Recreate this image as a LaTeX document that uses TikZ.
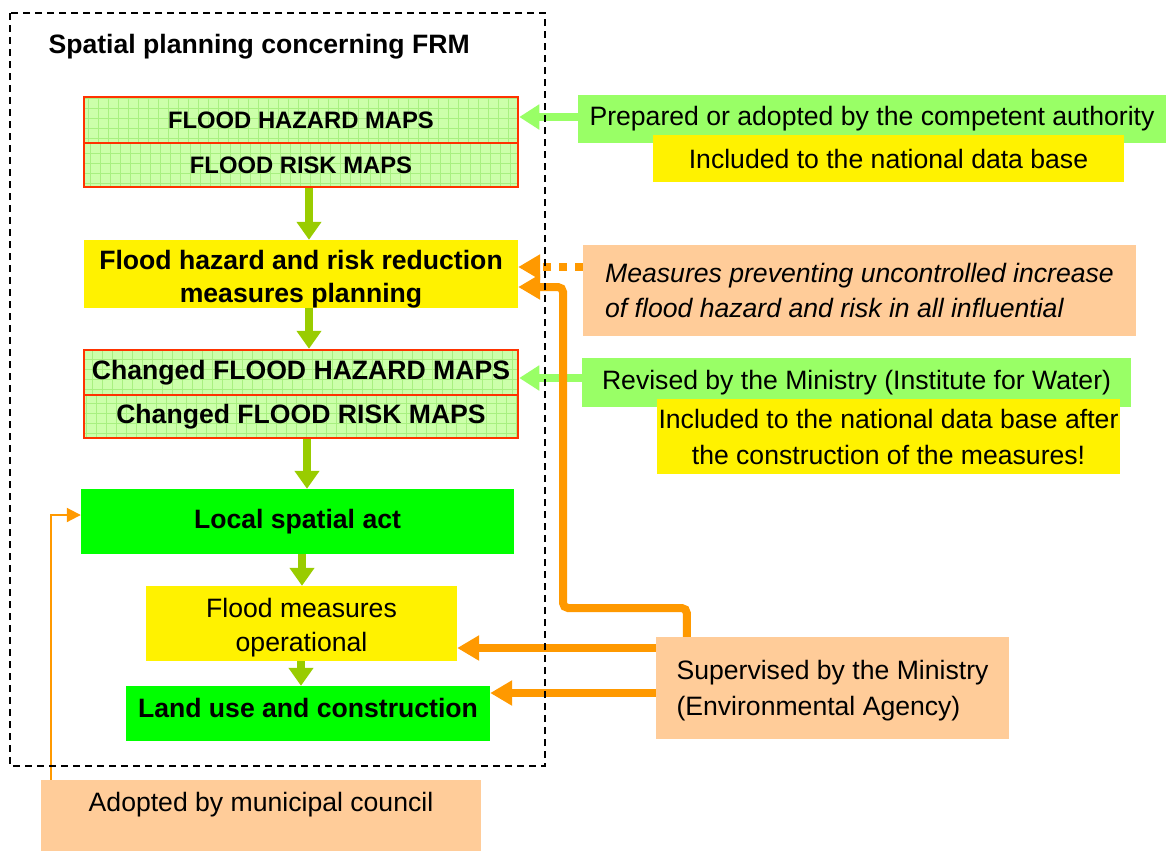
\documentclass[tikz,border=0pt]{standalone}
\usepackage{fontspec}
\setmainfont{Liberation Sans}
\usepackage{xcolor}
\usetikzlibrary{arrows.meta, calc}

\definecolor{mapfill}{HTML}{CCFFAA}
\definecolor{mapgrid}{HTML}{A8F080}
\definecolor{mapred}{HTML}{FF3300}
\definecolor{actgreen}{HTML}{00FF00}
\definecolor{notegreen}{HTML}{99FF66}
\definecolor{peach}{HTML}{FFCC99}
\definecolor{flowgreen}{HTML}{99CC00}
\definecolor{supor}{HTML}{FF9900}

\begin{document}
\begin{tikzpicture}[x=1pt, y=-1pt,
    base/.style={rectangle, inner sep=0pt, align=center,
        font=\fontsize{26.6}{34}\selectfont},
    mapbox/.style={base, draw=mapred, line width=2.5pt, fill=mapfill,
        minimum width=434pt, font=\fontsize{26.6}{34}\selectfont\bfseries,
        path picture={\draw[mapgrid, line width=0.6pt, step=10pt]
            (path picture bounding box.south west) grid
            (path picture bounding box.north east);}},
    yelbox/.style={base, fill=yellow},
    actbox/.style={base, fill=actgreen, font=\fontsize{26.6}{34}\selectfont\bfseries},
    notebox/.style={base, fill=notegreen},
    peachbox/.style={base, fill=peach},
    flow/.style={flowgreen, line width=8pt,
        -{Triangle[length=18pt, width=24pt]}},
    side/.style={notegreen, line width=8pt,
        -{Triangle[length=20pt, width=24pt]}},
    sup/.style={supor, line width=8pt,
        -{Triangle[length=22pt, width=24pt]}}
]
\useasboundingbox (0,0) rectangle (1171,852);

% left column
\node[anchor=west, font=\fontsize{26.6}{34}\selectfont\bfseries] (title) at (45,47)
    {Spatial planning concerning FRM};
\node[mapbox, minimum height=46pt, font=\fontsize{23.8}{30}\selectfont\bfseries]
    (haz) at (301,120) {FLOOD HAZARD MAPS};
\node[mapbox, minimum height=44pt, font=\fontsize{23.8}{30}\selectfont\bfseries]
    (risk) at (301,165) {FLOOD RISK MAPS};
\node[yelbox, minimum width=434pt, minimum height=68pt, text height=62.4pt,
    font=\fontsize{26.6}{33}\selectfont\bfseries] (plan) at (301,274)
    {Flood hazard and risk reduction\\measures planning};
\node[mapbox, minimum height=45pt] (chaz) at (301,372.5) {Changed FLOOD HAZARD MAPS};
\node[mapbox, minimum height=43pt] (crisk) at (301,416.5) {Changed FLOOD RISK MAPS};
\node[actbox, minimum width=433pt, minimum height=65pt] (local) at (297.5,521.5)
    {Local spatial act};
\node[yelbox, minimum width=311pt, minimum height=75pt, text height=61.5pt] (oper)
    at (301.5,623.5) {Flood measures\\operational};
\node[actbox, minimum width=364pt, minimum height=55pt, text depth=12pt] (land)
    at (308,713.5) {Land use and construction};

% right column
\node[notebox, minimum width=588pt, minimum height=48pt] (prep) at (872,119)
    {Prepared or adopted by the competent authority};
\node[yelbox, minimum width=471pt, minimum height=47pt] (natdb) at (888.5,158.5)
    {Included to the national data base};
\node[peachbox, minimum width=553pt, minimum height=91pt, align=left,
    font=\fontsize{26.6}{35}\selectfont\itshape] (meas) at (859.5,290)
    {Measures preventing uncontrolled increase\\of flood hazard and risk in all influential};
\node[notebox, minimum width=549pt, minimum height=49pt] (rev) at (856.5,382.5)
    {Revised by the Ministry (Institute for Water)};
\node[yelbox, minimum width=463pt, minimum height=75pt, font=\fontsize{26.6}{36}\selectfont]
    (natdbb) at (888.5,436.5)
    {Included to the national data base after\\the construction of the measures!};
\node[peachbox, minimum width=353pt, minimum height=102pt, align=left, text height=61.5pt,
    font=\fontsize{26.6}{36}\selectfont] (super)
    at (832.5,688) {Supervised by the Ministry\\(Environmental Agency)};
\node[peachbox, minimum width=440pt, minimum height=71pt, text depth=27pt] (adopt)
    at (261,815.5) {Adopted by municipal council};

% flow down the column
\draw[flow] (risk.south -| 309,0) -- (plan.north -| 309,0);
\draw[flow] (plan.south -| 309,0) -- (chaz.north -| 309,0);
\draw[flow] (crisk.south -| 307,0) -- (local.north -| 307,0);
\draw[flow] (local.south -| 302,0) -- (oper.north -| 302,0);
\draw[flow] (oper.south -| 301,0) -- (land.north -| 301,0);

% inputs from the right
\draw[side] (prep.west |- 0,117) -- (haz.east |- 0,117);
\draw[side] (rev.west |- 0,378) -- (chaz.east |- 0,378);
\draw[supor, line width=8pt, dash pattern=on 8pt off 8pt,
    -{Triangle[length=22pt, width=24pt]}] (meas.west |- 0,267) -- (plan.east |- 0,267);
\draw[sup, rounded corners=5pt] ($(super.north west)+(31,0)$) |- (563,608)
    |- (plan.east |- 0,287);
\draw[sup] (super.west |- 0,648) -- (oper.east |- 0,648);
\draw[sup] (super.west |- 0,693) -- (land.east |- 0,693);
\draw[supor, line width=2pt, -{Triangle[length=14pt, width=14pt]}]
    ($(adopt.north west)+(10,0)$) |- (local.west |- 0,515);

% frame
\draw[line width=1.4pt, dash pattern=on 7pt off 5pt] (10,13) rectangle (545,766);
\end{tikzpicture}
\end{document}
